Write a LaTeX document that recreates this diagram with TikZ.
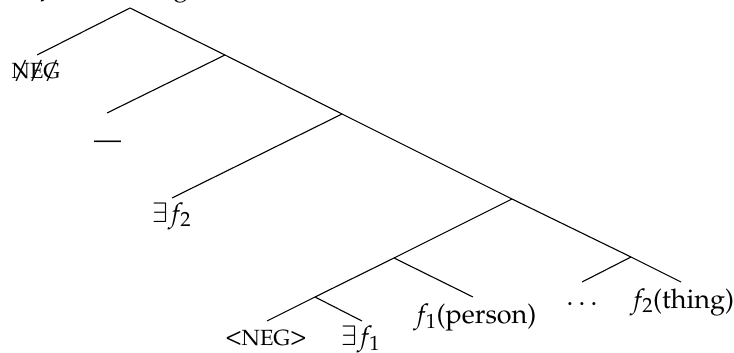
\documentclass[tikz,border=0pt]{standalone}
\usepackage[T1]{fontenc}
\usepackage{mathpazo}
\newcommand\smallcapsish[1]{{\fontsize{22}{26}\selectfont #1}}
\newcommand\bracketish[1]{{\fontsize{27}{32}\selectfont #1}}
\newcommand\strikeletter[1]{\ooalign{#1\cr\hidewidth{\fontsize{25}{30}\selectfont/}\hidewidth\cr}}
\begin{document}
\begin{tikzpicture}[x=1pt,y=-1pt,
  edge/.style={line width=1.1pt},
  lbl/.style={anchor=base, inner sep=0pt, font=\fontsize{27}{32}\selectfont}]
\useasboundingbox (0,0) rectangle (734,353);
% junctions
\coordinate (root) at (130,8);
\coordinate (j1) at (225,55);
\coordinate (j2) at (342,114);
\coordinate (j3) at (512,199);
\coordinate (j4) at (394,258);
\coordinate (j5) at (315,297);
\coordinate (j6) at (631,257);
% leaf ends
\coordinate (eneg) at (37,55);
\coordinate (edash) at (107,113);
\coordinate (ef2) at (172,198);
\coordinate (eneg2) at (267,321);
\coordinate (ef1) at (362,321);
\coordinate (eperson) at (473,297);
\coordinate (edots) at (582,282);
\coordinate (ething) at (681,282);
% edges
\draw[edge] (eneg) -- (root) -- (j1);
\draw[edge] (edash) -- (j1) -- (j2);
\draw[edge] (ef2) -- (j2) -- (j3);
\draw[edge] (j4) -- (j3) -- (j6);
\draw[edge] (j5) -- (j4) -- (eperson);
\draw[edge] (eneg2) -- (j5) -- (ef1);
\draw[edge] (edots) -- (j6) -- (ething);
% labels
\node[lbl] (topf) at (49,-5) {$f$};
\node[lbl] (topg) at (181,-4) {g};
\node[lbl] (negx) at (36,78) {\smallcapsish{\strikeletter{N}\strikeletter{E}\strikeletter{G}}};
\node[lbl] (dash) at (107.5,148) {---};
\node[lbl] (lf2) at (171.5,222) {$\exists f_2$};
\node[lbl] (lneg) at (266,345) {\bracketish{<}\smallcapsish{NEG}\bracketish{>}};
\node[lbl] (lf1) at (360.5,345) {$\exists f_1$};
\node[lbl] (lperson) at (475,323) {$f_1$(person)};
\node[lbl] (ldots) at (582,305) {$\dots$};
\node[lbl] (lthing) at (682,308) {$f_2$(thing)};
\end{tikzpicture}
\end{document}
